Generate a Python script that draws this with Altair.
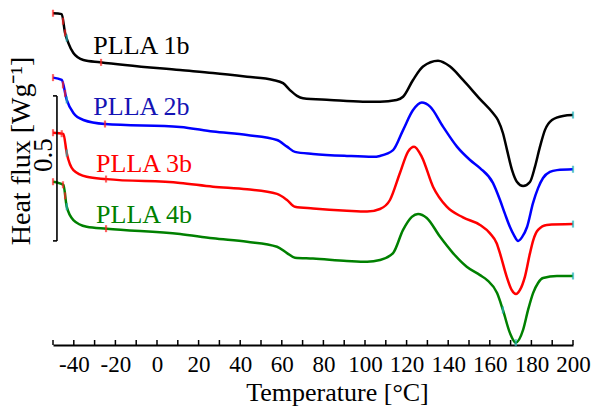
import altair as alt
import pandas as pd
import numpy as np

FONT = "Liberation Serif"

series_names = ["PLLA 1b", "PLLA 2b", "PLLA 3b", "PLLA 4b"]
line_colors = ["#000000", "#0000ff", "#ff0000", "#008000"]
label_colors = ["#000000", "#1414b4", "#ff0000", "#008000"]

# Temperature [°C] and heat flux [W/g] (curves shifted vertically)
t_1b = [-50, -45.8, -44.2, -42.6, -40.2, -35.4, -27.4, 11.1, 26.9, 43.3, 55.8, 60.6, 63.9, 67.3, 70.2,
        83.2, 99.0, 107.2, 115.2, 118.3, 123.1, 127.9, 135.1, 140.9, 147.1, 155.3, 161.5, 163.9, 166.3,
        168.3, 170.7, 173.1, 176.0, 179.3, 181.7, 184.1, 186.5, 189.9, 195.2, 200]
hf_1b = [1.144, 1.141, 1.076, 1.041, 1.007, 0.983, 0.975, 0.948, 0.938, 0.925, 0.914, 0.903, 0.879, 0.859, 0.851,
         0.845, 0.839, 0.839, 0.845, 0.856, 0.914, 0.960, 0.980, 0.960, 0.914, 0.848, 0.800, 0.776, 0.731,
         0.672, 0.603, 0.562, 0.548, 0.562, 0.614, 0.683, 0.741, 0.776, 0.790, 0.793]

t_2b = [-50, -45.8, -43.4, -40.2, -35.4, -25.0, 11.1, 26.9, 43.3, 57.7, 62.5, 66.3, 75.0, 91.3, 103.8,
        107.2, 113.5, 118.3, 123.1, 127.3, 131.3, 137.5, 144.2, 150.5, 155.3, 161.5, 164.9, 167.3, 169.7,
        171.6, 173.6, 175.5, 177.9, 180.8, 183.2, 185.6, 188.9, 192.3, 200]
hf_2b = [0.922, 0.914, 0.845, 0.800, 0.776, 0.762, 0.752, 0.736, 0.724, 0.707, 0.684, 0.666, 0.659, 0.652, 0.649,
         0.652, 0.672, 0.741, 0.810, 0.836, 0.822, 0.753, 0.684, 0.638, 0.610, 0.559, 0.500, 0.452, 0.407,
         0.379, 0.359, 0.372, 0.407, 0.490, 0.541, 0.576, 0.597, 0.603, 0.606]

t_3b = [-50, -45.0, -43.4, -40.2, -33.8, -24.2, 11.1, 26.9, 43.3, 57.7, 62.5, 66.3, 75.0, 91.3, 101.0,
        107.2, 112.0, 116.8, 120.7, 123.6, 127.3, 132.7, 139.3, 147.1, 155.3, 160.1, 163.3, 164.9, 168.1,
        170.5, 172.6, 174.5, 176.9, 179.3, 180.9, 183.2, 187.4, 200]
hf_3b = [0.732, 0.728, 0.662, 0.603, 0.580, 0.572, 0.559, 0.546, 0.537, 0.521, 0.500, 0.477, 0.471, 0.463, 0.460,
         0.469, 0.500, 0.593, 0.667, 0.684, 0.649, 0.546, 0.477, 0.440, 0.414, 0.385, 0.351, 0.316, 0.236,
         0.190, 0.176, 0.190, 0.236, 0.316, 0.362, 0.397, 0.414, 0.417]

t_4b = [-50, -45.0, -43.4, -40.2, -33.8, -24.2, 11.1, 26.9, 43.3, 57.7, 62.5, 66.3, 75.0, 91.3, 101.0,
        107.2, 113.5, 118.3, 122.5, 125.5, 129.7, 136.1, 142.3, 148.9, 155.3, 158.7, 163.5, 166.3, 169.7,
        172.5, 176.0, 178.4, 180.8, 183.2, 185.6, 192.3, 200]
hf_4b = [0.563, 0.552, 0.477, 0.431, 0.408, 0.401, 0.383, 0.368, 0.356, 0.339, 0.317, 0.301, 0.298, 0.290, 0.287,
         0.293, 0.317, 0.397, 0.442, 0.452, 0.438, 0.373, 0.317, 0.270, 0.241, 0.224, 0.179, 0.121, 0.041,
         0.008, 0.052, 0.121, 0.179, 0.214, 0.231, 0.238, 0.238]

# analysis markers on the curves
marker_t = {
    "PLLA 1b": [-50, -45.2, -44.2, -43.4, -26.9, 200],
    "PLLA 2b": [-50, -45.2, -44.2, -43.4, -25.0, 200],
    "PLLA 3b": [-50, -45.8, -43.4, -24.5, 200],
    "PLLA 4b": [-50, -45.2, -44.2, -43.4, -24.5, 166.3, 172.5, 200],
}
marker_kind = {
    "PLLA 1b": ["a", "a", "a", "b", "a", "b"],
    "PLLA 2b": ["a", "a", "a", "b", "a", "b"],
    "PLLA 3b": ["a", "a", "b", "a", "b"],
    "PLLA 4b": ["a", "a", "a", "b", "a", "b", "b", "b"],
}

# curve labels (position in data units)
label_t = [-30.6, -30.6, -29.3, -29.3]
label_hf = [1.003, 0.793, 0.598, 0.420]

x_ticks_major = [-40, -20, 0, 20, 40, 60, 80, 100, 120, 140, 160, 180, 200]
x_ticks_minor = [-50, -40, -30, -20, -10, 0, 10, 20, 30, 40, 50, 60, 70, 80, 90, 100, 110, 120, 130,
                 140, 150, 160, 170, 180, 190, 200]

scale_bar_t = -48.1
scale_bar_cap_t = -50
scale_bar_low = 0.359
scale_bar_high = 0.859

curves = {"PLLA 1b": (t_1b, hf_1b), "PLLA 2b": (t_2b, hf_2b),
          "PLLA 3b": (t_3b, hf_3b), "PLLA 4b": (t_4b, hf_4b)}

rows = []
for name, (ts, hs) in curves.items():
    for t, h in zip(ts, hs):
        rows.append({"T": t, "HF": h, "series": name})
df = pd.DataFrame(rows)

mrows = []
for name, (ts, hs) in curves.items():
    for t, k in zip(marker_t[name], marker_kind[name]):
        mrows.append({"T": t, "HF": float(np.interp(t, ts, hs)), "kind": k})
mdf = pd.DataFrame(mrows)

W, H = 520, 340
xscale = alt.Scale(domain=[-50, 200], nice=False, zero=False)
yscale = alt.Scale(domain=[0, 340 / 290], nice=False, zero=False)

lines = alt.Chart(df).mark_line(strokeWidth=2.5, interpolate="monotone").encode(
    x=alt.X("T:Q", scale=xscale,
            axis=alt.Axis(values=x_ticks_major, title="Temperature [°C]", grid=False, ticks=False,
                          domainColor="black", domainWidth=2, labelFont=FONT, labelFontSize=23,
                          labelExpr="'' + datum.value",
                          labelColor="black", labelPadding=8, labelFlush=False, labelOverlap=False,
                          titleFont=FONT, titleFontSize=26, titleFontWeight="normal", titleColor="black",
                          titleX=284, titleY=55, titleBaseline="alphabetic", titleAlign="center")),
    y=alt.Y("HF:Q", scale=yscale, axis=None),
    color=alt.Color("series:N", scale=alt.Scale(domain=series_names, range=line_colors), legend=None),
    detail="series:N",
)

markers = alt.Chart(mdf).mark_tick(orient="vertical", size=7, thickness=2.2).encode(
    x=alt.X("T:Q", scale=xscale),
    y=alt.Y("HF:Q", scale=yscale),
    color=alt.Color("kind:N", scale=alt.Scale(domain=["a", "b"], range=["#ff2020", "#20b0b8"]), legend=None),
)

tick_df = pd.DataFrame({"T": x_ticks_minor})
ticks = alt.Chart(tick_df).mark_rule(color="black", strokeWidth=1.5).encode(
    x=alt.X("T:Q", scale=xscale),
    y=alt.value(H),
    y2=alt.value(H - 5),
)

lab_df = pd.DataFrame({"T": label_t, "HF": label_hf, "name": series_names})
labels = alt.Chart(lab_df).mark_text(font=FONT, fontSize=26, align="left", baseline="alphabetic").encode(
    x=alt.X("T:Q", scale=xscale),
    y=alt.Y("HF:Q", scale=yscale),
    text="name:N",
    color=alt.Color("name:N", scale=alt.Scale(domain=series_names, range=label_colors), legend=None),
)

bar_v = alt.Chart(pd.DataFrame({"T": [scale_bar_t], "lo": [scale_bar_low], "hi": [scale_bar_high]})).mark_rule(
    color="black", strokeWidth=1.6).encode(
    x=alt.X("T:Q", scale=xscale), y=alt.Y("lo:Q", scale=yscale), y2="hi:Q")
bar_caps = alt.Chart(pd.DataFrame({"t0": [scale_bar_cap_t, scale_bar_cap_t], "t1": [scale_bar_t, scale_bar_t],
                                   "v": [scale_bar_low, scale_bar_high]})).mark_rule(
    color="black", strokeWidth=1.6).encode(
    x=alt.X("t0:Q", scale=xscale), x2="t1:Q", y=alt.Y("v:Q", scale=yscale))

bar_text = alt.Chart(pd.DataFrame({"T": [-54.3], "HF": [0.655], "txt": ["0.5"]})).mark_text(
    font=FONT, fontSize=27, angle=270, align="center", baseline="middle", color="black").encode(
    x=alt.X("T:Q", scale=xscale), y=alt.Y("HF:Q", scale=yscale), text="txt:N")

ytitle = alt.Chart(pd.DataFrame({"txt": ["Heat flux [Wg⁻¹]"]})).mark_text(
    font=FONT, fontSize=28, angle=270, align="center", baseline="middle", color="black").encode(
    x=alt.value(-31), y=alt.value(146), text="txt:N")

chart = alt.layer(lines, markers, ticks, labels, bar_v, bar_caps, bar_text, ytitle).resolve_scale(
    color="independent"
).properties(
    width=W, height=H,
    autosize=alt.AutoSizeParams(type="none"),
    padding={"left": 53, "top": 5, "right": 23, "bottom": 62},
).configure_view(stroke=None)

chart.save("out.html", embed_options={"renderer": "svg", "actions": False})
